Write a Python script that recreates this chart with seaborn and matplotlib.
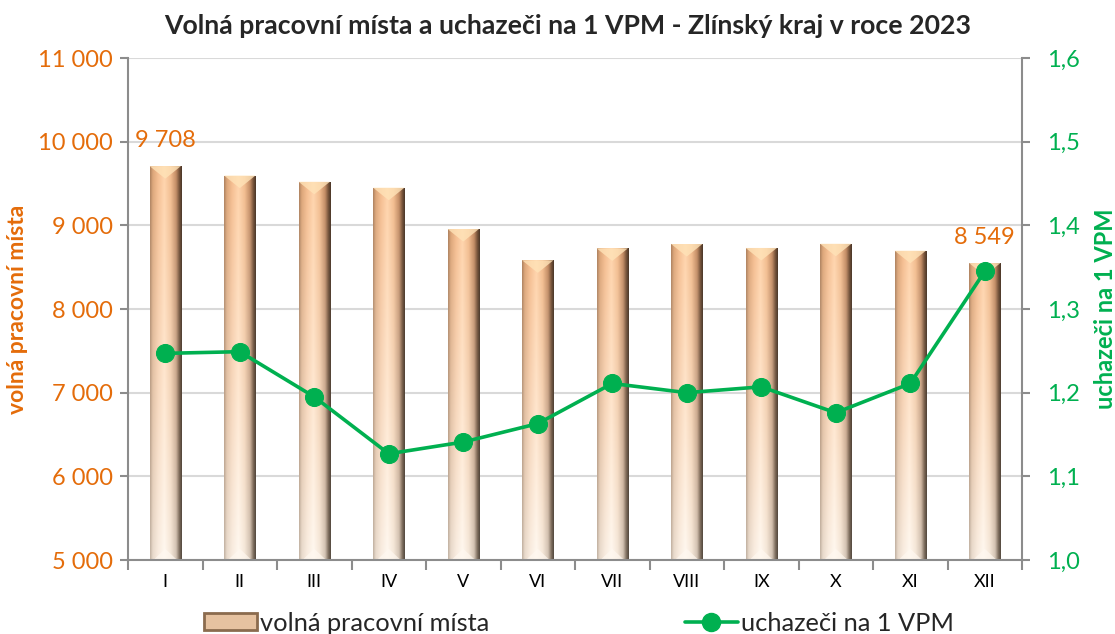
import numpy as np
import pandas as pd
import seaborn as sns
import matplotlib.pyplot as plt
from matplotlib.ticker import FuncFormatter, FixedLocator
from matplotlib.lines import Line2D
from matplotlib.patches import Patch, Polygon

# data
mesice = ["I", "II", "III", "IV", "V", "VI", "VII", "VIII", "IX", "X", "XI", "XII"]
volna_mista = [9708, 9595, 9521, 9450, 8956, 8582, 8725, 8777, 8730, 8780, 8697, 8549]
uchazeci_na_vpm = [1.247, 1.249, 1.195, 1.127, 1.141, 1.163, 1.211, 1.200, 1.207, 1.176, 1.211, 1.345]

ORANZOVA = "#E46C0A"
ZELENA = "#00B050"
SEDA = "#8C8C8C"

sns.set_style("white")
plt.rcParams["font.family"] = ["Lato", "DejaVu Sans"]

df = pd.DataFrame({"mesic": mesice, "vpm": volna_mista, "uch": uchazeci_na_vpm})

fig = plt.figure(figsize=(11.15, 6.34), dpi=100)
ax = fig.add_axes([0.1148, 0.1167, 0.9166 - 0.1148, 0.9085 - 0.1167])

sns.barplot(data=df, x="mesic", y="vpm", ax=ax, width=0.42, color="#F4BE8C",
            edgecolor="none", zorder=2)

# barevny prechod valce - vodorovny profil (nahore / dole)
u_stops = [0.0, 0.08, 0.25, 0.45, 0.65, 0.82, 0.93, 1.0]
top_cols = np.array([[175, 130, 95], [220, 165, 120], [245, 190, 145], [255, 212, 172],
                     [242, 188, 142], [195, 140, 100], [115, 80, 55], [75, 55, 40]]) / 255
bot_cols = np.array([[195, 180, 165], [232, 218, 204], [248, 236, 224], [255, 248, 240],
                     [245, 232, 218], [212, 197, 182], [125, 110, 95], [85, 75, 65]]) / 255
u = np.linspace(0, 1, 60)
v = np.linspace(0, 1, 100)[:, None, None]
prof_top = np.stack([np.interp(u, u_stops, top_cols[:, k]) for k in range(3)], axis=-1)
prof_bot = np.stack([np.interp(u, u_stops, bot_cols[:, k]) for k in range(3)], axis=-1)
grad = prof_top[None] * (1 - v) + prof_bot[None] * v  # radek 0 = nahore

bevel = 150
for p in ax.patches:
    x0 = p.get_x()
    w = p.get_width()
    y1 = p.get_y() + p.get_height()
    im = ax.imshow(grad, extent=[x0, x0 + w, 5000, y1], aspect="auto", zorder=2.1,
                   interpolation="bilinear")
    im.set_clip_path(p)
    # horni zkoseni
    ax.add_patch(Polygon([[x0, y1], [x0 + w, y1], [x0 + w * 0.5, y1 - bevel]],
                         closed=True, facecolor="#FFE3B8", edgecolor="none", alpha=0.8, zorder=2.2))
    # spodni zkoseni
    ax.add_patch(Polygon([[x0 + w * 0.12, 5000], [x0 + w * 0.88, 5000], [x0 + w * 0.5, 5000 + bevel * 0.9]],
                         closed=True, facecolor="#FFF8F0", edgecolor="none", alpha=0.7, zorder=2.2))

ax.set_xlim(-0.5, 11.5)
ax.set_ylim(5000, 11000)
ax.yaxis.set_major_locator(FixedLocator(np.arange(5000, 11001, 1000)))
ax.yaxis.set_major_formatter(FuncFormatter(lambda x, pos: f"{int(x):,}".replace(",", " ")))
ax.grid(axis="y", color="#D9D9D9", linewidth=1.5, zorder=0)
ax.set_axisbelow(True)
ax.set_xlabel("")
ax.set_ylabel("volná pracovní místa", color=ORANZOVA, fontsize=16.5, fontweight="bold", labelpad=7)
ax.tick_params(axis="y", colors=SEDA, labelcolor=ORANZOVA, labelsize=17, length=6, width=1.5,
               direction="out", left=True, pad=5)
ax.tick_params(axis="x", which="major", length=0, labelsize=13, labelcolor="black", pad=10)
ax.xaxis.set_minor_locator(FixedLocator(np.arange(-0.5, 12, 1)))
ax.tick_params(axis="x", which="minor", length=7, width=1.5, color=SEDA, direction="out", bottom=True)
for s in ["left", "bottom"]:
    ax.spines[s].set_color(SEDA)
    ax.spines[s].set_linewidth(1.5)
for s in ["top", "right"]:
    ax.spines[s].set_visible(False)

# popisky hodnot
for i in [0, len(mesice) - 1]:
    ax.annotate(f"{volna_mista[i]:,}".replace(",", " "), (i, volna_mista[i]),
                xytext=(0, 11), textcoords="offset points", ha="center", va="bottom",
                color=ORANZOVA, fontsize=17)

ax2 = ax.twinx()
sns.lineplot(data=df, x="mesic", y="uch", ax=ax2, color=ZELENA, linewidth=2.6,
             marker="o", markersize=13, markeredgecolor=ZELENA, sort=False, zorder=5)
ax2.set_ylim(1.0, 1.6)
ax2.yaxis.set_major_locator(FixedLocator(np.arange(1.0, 1.61, 0.1)))
ax2.yaxis.set_major_formatter(FuncFormatter(lambda x, pos: f"{x:.1f}".replace(".", ",")))
ax2.set_xlabel("")
ax2.set_ylabel("uchazeči na 1 VPM", color=ZELENA, fontsize=17, fontweight="bold", labelpad=10)
ax2.tick_params(axis="y", colors=SEDA, labelcolor=ZELENA, labelsize=17, length=6, width=1.5,
                direction="out", right=True, pad=12)
for s in ["left", "bottom", "top"]:
    ax2.spines[s].set_visible(False)
ax2.spines["right"].set_color(SEDA)
ax2.spines["right"].set_linewidth(1.5)
ax2.grid(False)

fig.suptitle("Volná pracovní místa a uchazeči na 1 VPM - Zlínský kraj v roce 2023",
             x=0.509, y=0.978, fontsize=19.2, fontweight="bold")

handles = [Patch(facecolor="#E6C2A0", edgecolor="#8B6B4E", linewidth=2),
           Line2D([], [], color=ZELENA, linewidth=2.6, marker="o", markersize=13)]
fig.legend(handles, ["volná pracovní místa", "uchazeči na 1 VPM"], loc="center",
           bbox_to_anchor=(0.519, 0.017), ncol=2, frameon=False, fontsize=18.3,
           handlelength=2.1, handleheight=0.65, handletextpad=0.1, columnspacing=7.7)

fig.savefig("out.png", dpi=100)
